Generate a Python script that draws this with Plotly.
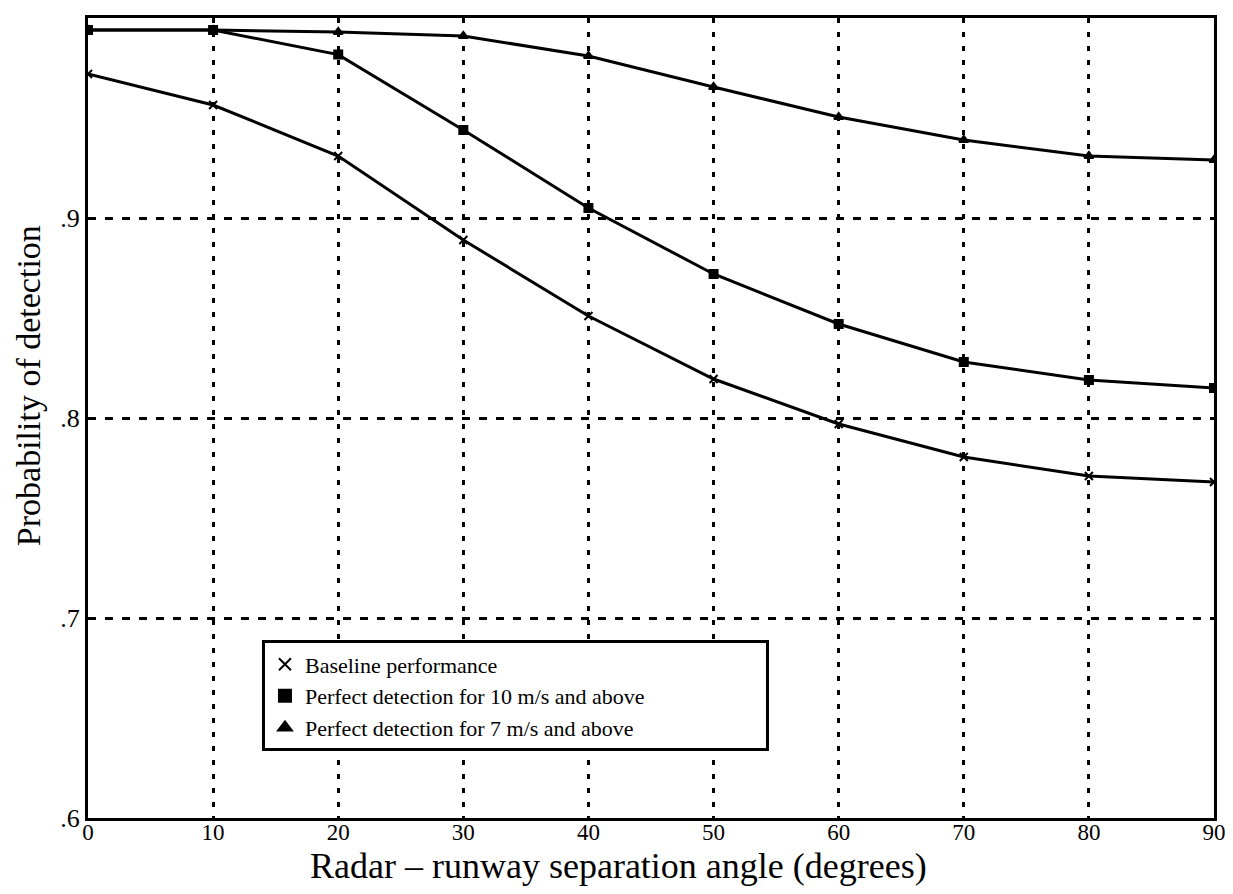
import plotly.graph_objects as go

angles = [0, 10, 20, 30, 40, 50, 60, 70, 80, 90]
baseline = [0.972, 0.9565, 0.931, 0.889, 0.851, 0.8195, 0.797, 0.7805, 0.771, 0.768]
perfect_10 = [0.994, 0.994, 0.9817, 0.944, 0.905, 0.872, 0.847, 0.828, 0.819, 0.815]
perfect_7 = [0.994, 0.994, 0.993, 0.991, 0.981, 0.9655, 0.9505, 0.939, 0.931, 0.929]

names = ["Baseline performance",
         "Perfect detection for 10 m/s and above",
         "Perfect detection for 7 m/s and above"]
symbols = ["x-thin-open", "square", "triangle-up"]
series = [baseline, perfect_10, perfect_7]

x_ticks = [0, 10, 20, 30, 40, 50, 60, 70, 80, 90]
y_ticks = [0.6, 0.7, 0.8, 0.9, 1.0]
y_tick_text = [".6", ".7", ".8", ".9", "1"]

FONT = "Liberation Serif, Times New Roman, serif"
PAD = "\u00a0" * 21  # widen the legend box like the original

fig = go.Figure()
for ys, sym in zip(series, symbols):
    fig.add_trace(go.Scatter(
        x=angles, y=ys, mode="lines+markers",
        line=dict(color="black", width=3),
        marker=dict(symbol=sym, size=8, color="black",
                    line=dict(color="black", width=2)),
        showlegend=False, hoverinfo="skip"))
# legend-only marker entries
for i, (name, sym) in enumerate(zip(names, symbols)):
    fig.add_trace(go.Scatter(
        x=[None], y=[None], mode="markers",
        name=name + (PAD if i == 1 else ""),
        marker=dict(symbol=sym, size=7, color="black",
                    line=dict(color="black", width=2))))

fig.update_layout(
    width=1225, height=878,
    margin=dict(l=80, r=19, t=10, b=68),
    paper_bgcolor="white", plot_bgcolor="white",
    font=dict(family=FONT, color="black", size=22),
    legend=dict(x=0.1545, y=0.222, xanchor="left", yanchor="top",
                bgcolor="white", bordercolor="black", borderwidth=3,
                font=dict(family=FONT, size=22, color="black"),
                itemsizing="constant", tracegroupgap=0, itemwidth=30),
    showlegend=True,
    annotations=[
        dict(text="Probability of detection", xref="paper", yref="paper",
             x=-0.0533, y=0.541, xanchor="center", yanchor="middle",
             textangle=-90, showarrow=False,
             font=dict(family=FONT, size=34, color="black")),
        dict(text="Radar \u2013 runway separation angle (degrees)",
             xref="paper", yref="paper", x=0.4707, y=-0.0597,
             xanchor="center", yanchor="middle", showarrow=False,
             font=dict(family=FONT, size=36, color="black")),
    ],
)
fig.update_xaxes(
    range=[0, 90], tickvals=x_ticks, ticks="", showline=True,
    linecolor="black", linewidth=3, mirror=True, automargin=False,
    showgrid=True, gridcolor="black", gridwidth=3, griddash="5px,9px",
    zeroline=False, ticklabelstandoff=-9,
    tickfont=dict(family=FONT, size=23),
)
fig.update_yaxes(
    range=[0.6, 1.0], tickvals=y_ticks, ticktext=y_tick_text, ticks="",
    showline=True, linecolor="black", linewidth=3, mirror=True,
    automargin=False,
    showgrid=True, gridcolor="black", gridwidth=3, griddash="8px,9px",
    zeroline=False,
    tickfont=dict(family=FONT, size=26),
)

fig.write_html("out.html")
